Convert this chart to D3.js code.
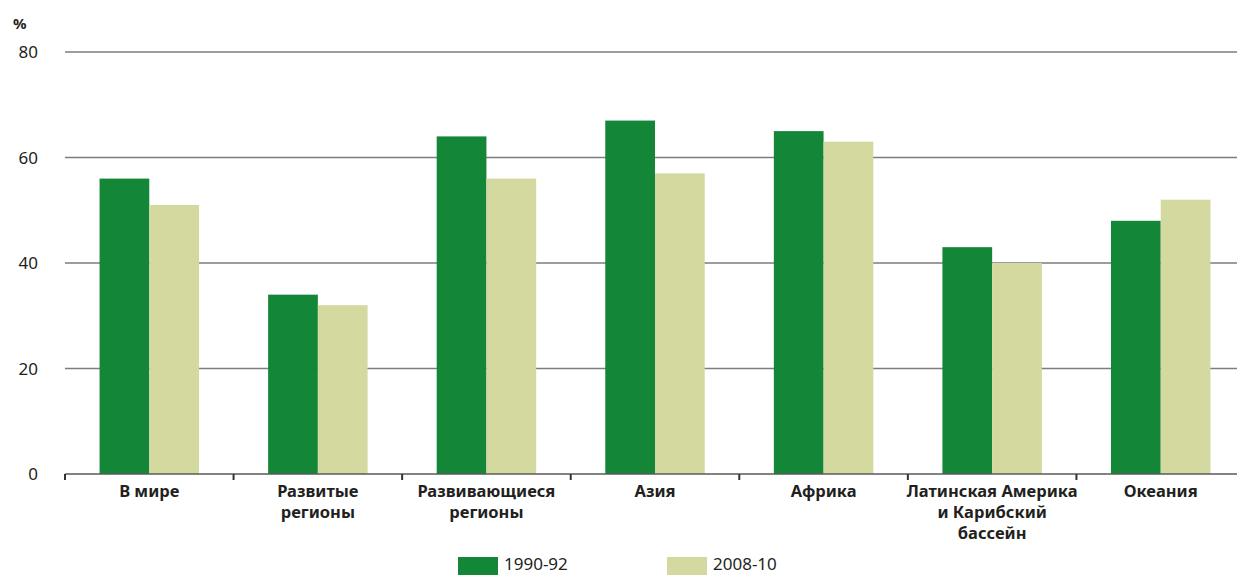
<!DOCTYPE html>
<html>
<head>
<meta charset="utf-8">
<script src="https://cdn.jsdelivr.net/npm/d3@7"></script>
<style>
  body { margin: 0; background: #fff; }
  svg { display: block; font-family: "Noto Sans", sans-serif; }
</style>
</head>
<body>
<svg id="chart" width="1237" height="575"></svg>
<script>
// data
const categories = [
  ["В мире"],
  ["Развитые", "регионы"],
  ["Развивающиеся", "регионы"],
  ["Азия"],
  ["Африка"],
  ["Латинская Америка", "и Карибский", "бассейн"],
  ["Океания"]
];
const series = ["1990-92", "2008-10"];
const values1990 = [56, 34, 64, 67, 65, 43, 48];
const values2008 = [51, 32, 56, 57, 63, 40, 52];
const yTicks = [0, 20, 40, 60, 80];
const colors = ["#138638", "#d4d99f"];

const svg = d3.select("#chart");
const mLeft = 65, mRight = 1245, mTop = 52, mBottom = 474;

const x = d3.scaleBand().domain(d3.range(categories.length)).range([mLeft, mRight]).paddingInner(0.41).paddingOuter(0.205);
const xs = d3.scaleBand().domain(series).range([0, x.bandwidth()]);
const y = d3.scaleLinear().domain([0, 80]).range([mBottom, mTop]);

// gridlines
svg.append("g").selectAll("line").data(yTicks.filter(d => d > 0)).enter().append("line")
  .attr("x1", mLeft).attr("x2", 1237)
  .attr("y1", d => y(d)).attr("y2", d => y(d))
  .attr("stroke", "#7d7d7d").attr("stroke-width", 1.5);

// y labels
svg.append("g").selectAll("text").data(yTicks).enter().append("text")
  .attr("x", 38).attr("y", d => y(d) + 6)
  .attr("text-anchor", "end")
  .attr("font-size", 17).attr("fill", "#231f20")
  .text(d => d);

svg.append("text").attr("x", 13).attr("y", 29)
  .attr("font-size", 15).attr("font-weight", "bold").attr("fill", "#231f20").text("%");

// bars
const rows = categories.map((c, i) => ({ i, vals: [values1990[i], values2008[i]] }));
const g = svg.append("g").selectAll("g").data(rows).enter().append("g")
  .attr("transform", d => `translate(${x(d.i)},0)`);
g.selectAll("rect").data(d => d.vals.map((v, k) => ({ v, k }))).enter().append("rect")
  .attr("x", d => xs(series[d.k]))
  .attr("width", xs.bandwidth())
  .attr("y", d => y(d.v))
  .attr("height", d => mBottom - y(d.v))
  .attr("fill", d => colors[d.k]);

// x axis line + ticks at band boundaries
svg.append("line").attr("x1", mLeft).attr("x2", 1237).attr("y1", mBottom).attr("y2", mBottom)
  .attr("stroke", "#5a5a5a").attr("stroke-width", 1.5);
const step = (mRight - mLeft) / categories.length;
svg.append("g").selectAll("line").data(d3.range(categories.length)).enter().append("line")
  .attr("x1", d => mLeft + d * step).attr("x2", d => mLeft + d * step)
  .attr("y1", mBottom).attr("y2", mBottom + 6)
  .attr("stroke", "#333").attr("stroke-width", 2);

// category labels
const lab = svg.append("g").selectAll("text").data(categories).enter().append("text")
  .attr("x", (d, i) => mLeft + (i + 0.5) * step)
  .attr("y", 497)
  .attr("text-anchor", "middle")
  .attr("font-size", 16.5).attr("font-weight", "bold").attr("fill", "#231f20");
lab.selectAll("tspan").data(d => d).enter().append("tspan")
  .attr("x", function () { return this.parentNode.getAttribute("x"); })
  .attr("dy", (d, k) => k === 0 ? 0 : 21)
  .text(d => d);

// legend
const legX = [458, 667];
series.forEach((s, k) => {
  svg.append("rect").attr("x", legX[k]).attr("y", 557).attr("width", 40).attr("height", 18).attr("fill", colors[k]);
  svg.append("text").attr("x", legX[k] + 46).attr("y", 570)
    .attr("font-size", 17).attr("fill", "#231f20").text(s);
});
</script>
</body>
</html>
